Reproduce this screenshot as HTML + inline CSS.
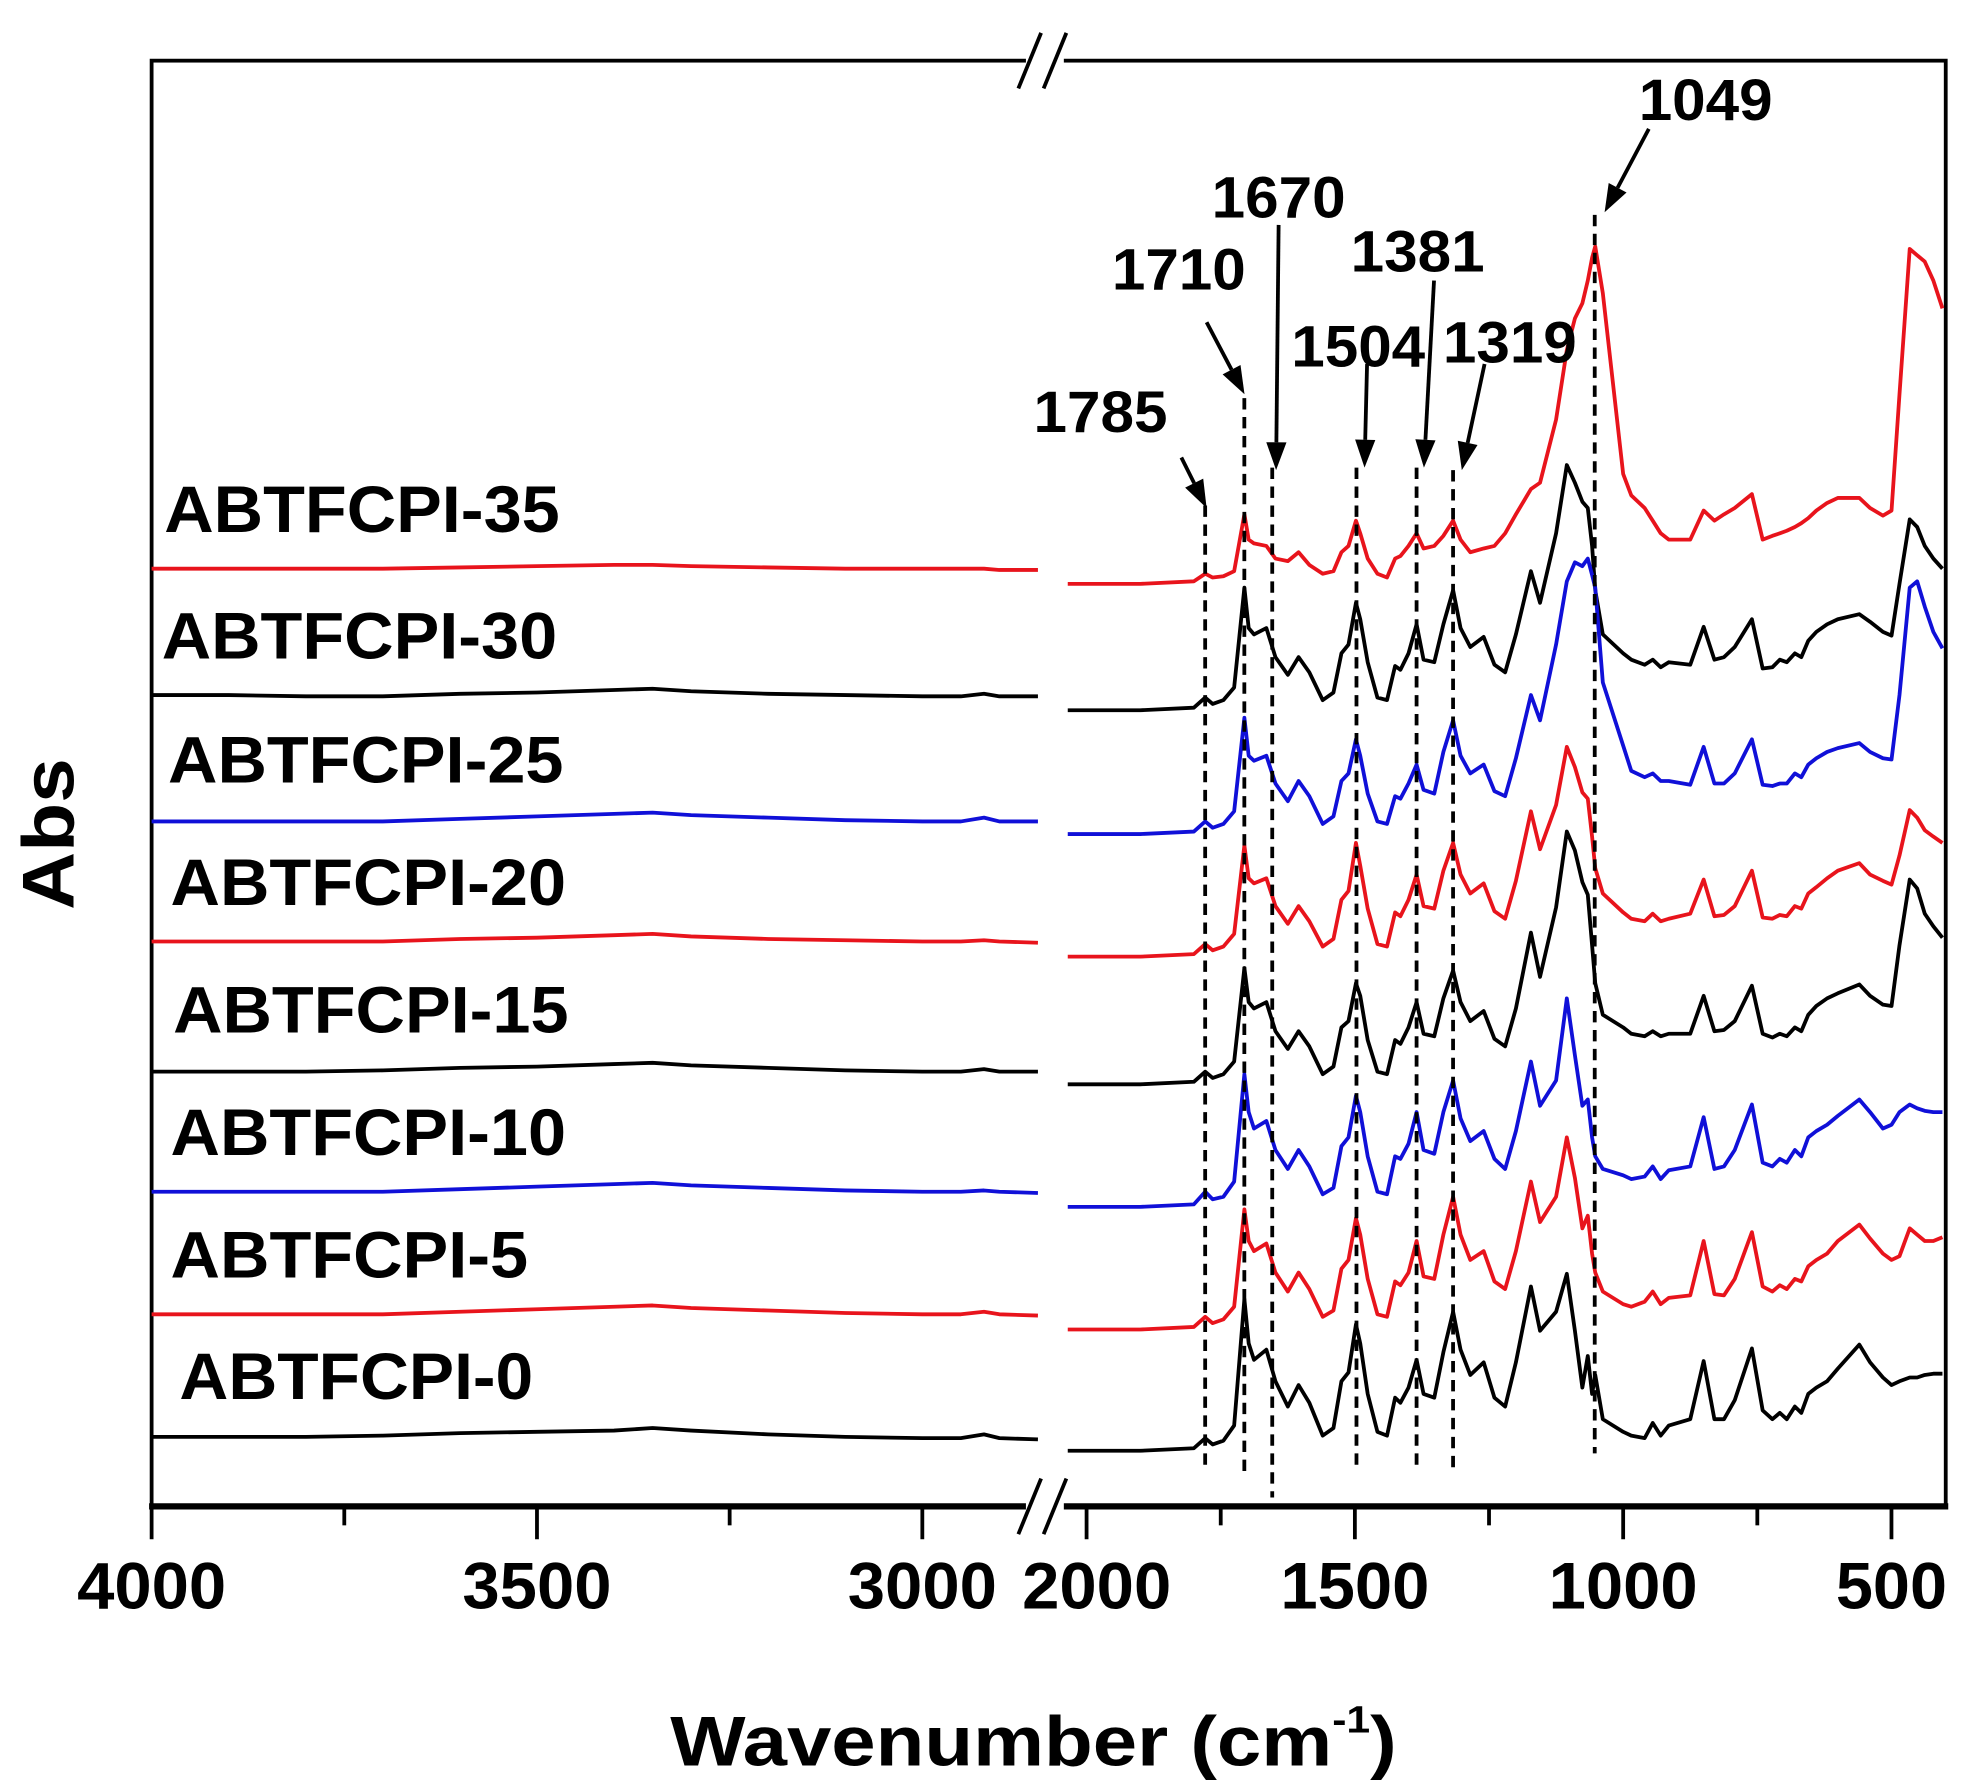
<!DOCTYPE html>
<html><head><meta charset="utf-8"><style>
html,body{margin:0;padding:0;background:#fff;}
svg{display:block;}
text{font-family:"Liberation Sans",Arial,sans-serif;font-weight:bold;fill:#000;}
</style></head><body>
<svg id="chart" xmlns="http://www.w3.org/2000/svg" width="1971" height="1792" viewBox="0 0 1560 1418" preserveAspectRatio="none">
<g id="frame"></g>
<g id="ticks"></g>
<g id="series"></g>
<g id="ann"></g>
<text x="818" y="1397" font-size="56" text-anchor="middle" textLength="575" lengthAdjust="spacingAndGlyphs">Wavenumber (cm<tspan font-size="30" dy="-26">-1</tspan><tspan dy="26">)</tspan></text>
<text transform="translate(58,660) rotate(-90)" font-size="58" text-anchor="middle" textLength="120" lengthAdjust="spacingAndGlyphs">Abs</text>
</svg>
<script>
const NS="http://www.w3.org/2000/svg";
// ---- data ----
const seriesNames=["ABTFCPI-35","ABTFCPI-30","ABTFCPI-25","ABTFCPI-20","ABTFCPI-15","ABTFCPI-10","ABTFCPI-5","ABTFCPI-0"];
const seriesOffsets=[730,630,532,435,334,237,140,44];
const leftWn=[4000,3900,3800,3700,3600,3500,3400,3350,3300,3200,3100,3000,2950,2920,2900,2850];
const rightWn=[2035,1900,1800,1779,1765,1745,1725,1706,1698,1688,1665,1648,1625,1605,1585,1560,1540,1525,1512,1498,1490,1476,1458,1440,1425,1415,1400,1385,1372,1352,1335,1317,1303,1285,1260,1240,1220,1200,1172,1155,1125,1105,1090,1076,1066,1058,1052,1038,1000,985,960,945,930,915,875,850,830,812,792,760,740,722,708,695,680,668,655,640,620,600,560,540,516,500,485,466,452,438,422,405];
const left35=[12,12,12,12,13,14,15,15,14,13,12,12,12,12,11,11];
const left30=[12,12,11,11,13,14,16,17,15,13,12,11,11,13,11,11];
const left25=[10,10,10,10,12,14,16,17,15,13,11,10,10,13,10,10];
const left20=[12,12,12,12,14,15,17,18,16,14,13,12,12,13,12,11];
const left15=[10,10,10,11,13,14,16,17,15,13,11,10,10,12,10,10];
const left10=[12,12,12,12,14,16,18,19,17,15,13,12,12,13,12,11];
const left5=[12,12,12,12,14,16,18,19,17,15,13,12,12,14,12,11];
const left0=[11,11,11,12,14,15,16,18,16,13,11,10,10,13,10,9];
const right35=[0,0,2,8,5,6,10,55,35,32, 30,20,18,25,15,8,10,25,30,50, 40,20,8,5,20,22,30,40,28,30, 38,50,35,25,28,30,40,55,75,80, 130,185,210,222,240,258,267,230,87,70, 60,50,40,35,35,58,50,55,60,71, 35,38,40,42,45,48,52,58,64,68, 68,60,54,58,150,265,260,255,240,218];
const right30=[0,0,2,10,5,8,18,97,65,60, 65,42,28,42,30,8,14,45,52,85, 72,38,10,8,35,32,45,68,40,38, 68,95,65,50,58,36,30,60,110,85, 140,194,180,165,160,130,95,60,45,40, 36,40,34,38,36,66,40,42,50,72, 33,34,40,38,45,42,55,62,68,72, 76,70,62,59,100,151,145,130,120,112];
const right25=[0,0,2,10,5,8,18,92,62,58, 62,40,26,42,30,8,14,42,48,75, 62,32,10,8,30,28,40,55,35,32, 65,90,62,48,55,34,30,60,110,90, 150,200,215,212,218,205,195,120,70,50, 45,48,42,42,39,69,40,40,48,75, 39,38,40,40,48,45,55,60,65,68, 72,65,60,59,110,195,200,180,160,147];
const right20=[0,0,2,10,5,8,18,88,62,58, 62,40,26,40,28,8,14,45,52,90, 72,38,10,8,35,32,45,65,40,38, 68,90,65,50,58,36,30,60,115,85, 120,166,150,130,125,95,70,50,35,30, 28,34,28,30,34,61,32,33,40,68, 31,30,33,32,40,38,50,55,62,68, 74,65,60,57,80,116,110,100,95,90];
const right15=[0,0,2,10,5,8,18,92,65,60, 65,42,28,42,30,8,14,45,50,80, 70,35,10,8,35,32,45,65,40,38, 68,90,65,50,58,36,30,60,120,85, 140,200,185,160,150,110,80,55,45,40, 38,42,38,40,40,70,42,43,50,78, 40,37,40,38,45,42,55,62,68,72, 79,70,63,62,110,162,155,135,125,116];
const right10=[0,0,2,12,6,8,20,105,75,62, 68,45,30,45,32,10,15,48,55,88, 75,40,12,10,40,38,50,75,45,42, 75,100,70,52,60,38,30,60,115,80, 100,165,120,80,85,55,40,30,25,22, 24,32,22,29,32,71,30,32,45,81, 35,32,38,35,45,40,55,60,65,72, 85,75,62,65,75,81,78,76,75,75];
const right5=[0,0,2,10,5,8,18,95,70,62, 68,45,30,45,32,10,15,48,55,88, 75,40,12,10,38,35,45,70,42,40, 75,105,75,55,62,38,32,62,117,85, 105,152,120,80,90,60,45,30,20,18, 22,30,20,25,27,70,28,27,40,77, 34,30,35,32,40,38,50,55,60,70, 83,72,60,55,58,80,75,70,70,73];
const right0=[0,0,2,10,5,8,20,120,85,72, 80,55,35,52,38,12,18,55,62,100, 85,45,15,12,42,38,50,72,45,42, 78,110,80,60,70,42,35,70,130,95, 110,140,95,50,75,45,60,25,15,12, 10,22,12,20,25,71,25,25,40,81, 32,25,30,25,35,30,45,50,55,65, 84,70,58,52,55,58,58,60,61,61];
const leftTicks=[4000,3750,3500,3250,3000];
const leftTickLabels=["4000","3500","3000"];
const rightTicks=[2000,1750,1500,1250,1000,750,500];
const rightTickLabels=["2000","1500","1000","500"];
const peakLines=[1779,1706,1654,1497,1385,1317,1053];
const peakLabels=["1785","1710","1670","1504","1381","1319","1049"];
// ---- scales ----
function xL(w){return 120+(4000-w)*0.61;}
function xR(w){return 860+(2000-w)*0.4247;}
function yS(v,off){return 1192-off-v;}
const colors=["#e8141c","#000","#1010d8","#e8141c","#000","#1010d8","#e8141c","#000"];
const leftData=[left35,left30,left25,left20,left15,left10,left5,left0];
const rightData=[right35,right30,right25,right20,right15,right10,right5,right0];
const labelX=[130,128,133,135,137,135,135,142];
const labelW=[313,313,313,313,313,313,283,280];
function mk(tag,attrs,parent){const e=document.createElementNS(NS,tag);for(const k in attrs)e.setAttribute(k,attrs[k]);parent.appendChild(e);return e;}
const frame=document.getElementById('frame');
let e=mk('rect',{x:120,y:48,width:1420,height:1144,fill:'none',stroke:'#000','stroke-width':3},frame);


e=mk('line',{x1:118,y1:1192,x2:1542,y2:1192,stroke:'#000','stroke-width':5},frame);


[[48],[1192]].forEach((p,i)=>{
  const y=p[0];
  const g=mk('g',{},frame);
  
  
  mk('rect',{x:812,y:y-8,width:30,height:16,fill:'#fff'},g);
  mk('line',{x1:806,y1:y+22,x2:824,y2:y-22,stroke:'#000','stroke-width':3},g);
  mk('line',{x1:826,y1:y+22,x2:844,y2:y-22,stroke:'#000','stroke-width':3},g);
});
const ticks=document.getElementById('ticks');
leftTicks.forEach((w,i)=>{const x=xL(w);const t=mk('line',{x1:x,y1:1192,x2:x,y2:(i%2?1207:1218),stroke:'#000','stroke-width':3},ticks);

});
rightTicks.forEach((w,i)=>{const x=xR(w);const t=mk('line',{x1:x,y1:1192,x2:x,y2:(i%2?1207:1218),stroke:'#000','stroke-width':3},ticks);

});
leftTickLabels.forEach((s,i)=>{const w=+s;const t=mk('text',{x:xL(w),y:1273,'font-size':52,'text-anchor':'middle',textLength:118,lengthAdjust:'spacingAndGlyphs'},ticks);t.textContent=s;

});
rightTickLabels.forEach((s,i)=>{const w=+s;const len=s.length===3?88:118;const t=mk('text',{x:xR(w)+(w===2000?8:0),y:1273,'font-size':52,'text-anchor':'middle',textLength:len,lengthAdjust:'spacingAndGlyphs'},ticks);t.textContent=s;

});
const sg=document.getElementById('series');
seriesNames.forEach((n,i)=>{
  const off=seriesOffsets[i];
  const g=mk('g',{},sg);
  
  
  let d=leftWn.map((w,j)=>(j?'L':'M')+xL(w).toFixed(1)+','+yS(leftData[i][j],off).toFixed(1)).join('');
  mk('path',{d:d,fill:'none',stroke:colors[i],'stroke-width':3,'stroke-linejoin':'round'},g);
  d=rightWn.map((w,j)=>(j?'L':'M')+xR(w).toFixed(1)+','+yS(rightData[i][j],off).toFixed(1)).join('');
  mk('path',{d:d,fill:'none',stroke:colors[i],'stroke-width':3,'stroke-linejoin':'round'},g);
  const t=mk('text',{x:labelX[i],y:yS(38,off)-3,'font-size':52,textLength:labelW[i],lengthAdjust:'spacingAndGlyphs'},g);
  t.textContent=n;
  
  
});
const ann=document.getElementById('ann');
const lineTop=[400,315,370,370,370,372,170];
const lineBot=[1165,1165,1185,1165,1165,1165,1150];
const lblPos=[[871,342],[933,229],[1012,172],[1075,290],[1122,215],[1195,287],[1350,95]];
const arrows=[[935,362,955,402],[955,255,985,312],[1012,178,1010,372],[1082,288,1080,370],[1135,222,1127,370],[1175,288,1157,372],[1305,102,1270,168]];
peakLines.forEach((w,i)=>{
  const x=xR(w);
  const l=mk('line',{x1:x,y1:lineTop[i],x2:x,y2:lineBot[i],stroke:'#000','stroke-width':3,'stroke-dasharray':'9,6'},ann);
  
  
  const t=mk('text',{x:lblPos[i][0],y:lblPos[i][1],'font-size':46,'text-anchor':'middle',textLength:106,lengthAdjust:'spacingAndGlyphs'},ann);
  t.textContent=peakLabels[i];
  
  
  const a=arrows[i];const dx=a[2]-a[0],dy=a[3]-a[1];const L=Math.hypot(dx,dy);const ux=dx/L,uy=dy/L;
  const bx=a[2]-ux*22,by=a[3]-uy*22;
  const ag=mk('g',{},ann);
  
  
  mk('line',{x1:a[0],y1:a[1],x2:bx,y2:by,stroke:'#000','stroke-width':3},ag);
  mk('polygon',{points:`${a[2]},${a[3]} ${bx-uy*8},${by+ux*8} ${bx+uy*8},${by-ux*8}`,fill:'#000'},ag);
});
</script>
</body></html>
